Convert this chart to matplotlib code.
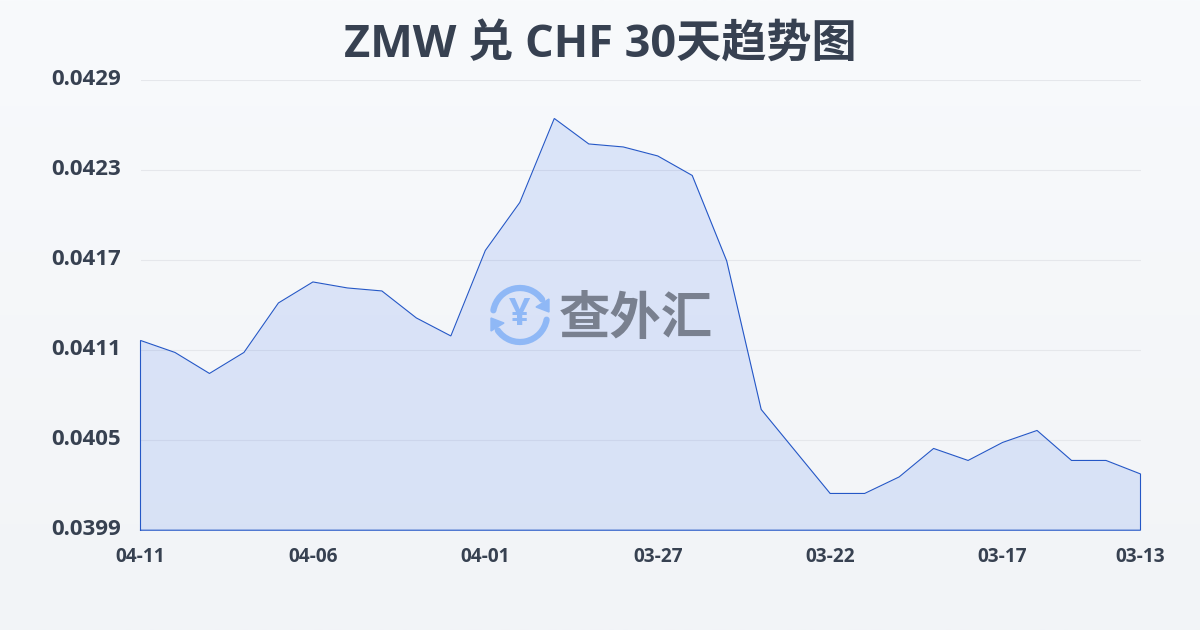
import numpy as np
import matplotlib
matplotlib.use('Agg')
import matplotlib.pyplot as plt
from matplotlib.patches import Arc, Polygon
from matplotlib.transforms import ScaledTranslation

plt.rcParams['font.family'] = ['Open Sans', 'Noto Sans CJK SC', 'DejaVu Sans']

# data, newest date on the left like the original
title = 'ZMW 兑 CHF 30天趋势图'
rates = [0.041165, 0.041085, 0.040945, 0.041085, 0.041415, 0.041555, 0.041515, 0.041495, 0.041315, 0.041195,
         0.041765, 0.042085, 0.042645, 0.042475, 0.042455, 0.042395, 0.042265, 0.041695, 0.040705, 0.040425,
         0.040145, 0.040145, 0.040255, 0.040445, 0.040365, 0.040485, 0.040565, 0.040365, 0.040365, 0.040275]
x_tick_pos = [0, 5, 10, 15, 20, 25, 29]
x_tick_labels = ['04-11', '04-06', '04-01', '03-27', '03-22', '03-17', '03-13']
y_ticks = [0.0399, 0.0405, 0.0411, 0.0417, 0.0423, 0.0429]

text_color = '#374151'
line_color = '#1a4fc4'
W, H = 1200, 630

fig = plt.figure(figsize=(W / 100, H / 100), dpi=100)

# background gradient
bg = fig.add_axes([0, 0, 1, 1], zorder=0)
bg.imshow(np.linspace(0, 1, 256).reshape(-1, 1),
          cmap=matplotlib.colors.LinearSegmentedColormap.from_list('bg', ['#f8fafc', '#f2f4f7']),
          aspect='auto', extent=[0, 1, 0, 1])
bg.axis('off')

# main chart
ax = fig.add_axes([140.5 / W, 1 - 530.2 / H, 1000 / W, 450 / H], zorder=1)
ax.patch.set_alpha(0)
x = np.arange(len(rates))
ax.fill_between(x, rates, y_ticks[0], color='#2563eb', alpha=0.13, linewidth=0)
ax.plot(np.r_[x[0], x, x[-1], x[0]], np.r_[y_ticks[0], rates, y_ticks[0], y_ticks[0]],
        color=line_color, linewidth=0.8, alpha=0.95, solid_joinstyle='miter', clip_on=False)
ax.set_xlim(0, len(rates) - 1)
ax.set_ylim(y_ticks[0], y_ticks[-1])
ax.set_xticks(x_tick_pos)
ax.set_xticklabels(x_tick_labels)
ax.set_yticks(y_ticks)
ax.set_yticklabels([f'{v:.4f}' for v in y_ticks])
ax.grid(axis='y', color='#e5e7eb', linewidth=0.8)
ax.set_axisbelow(True)
for s in ax.spines.values():
    s.set_visible(False)
ax.tick_params(axis='x', length=0, pad=12, labelsize=13.7, labelcolor=text_color)
ax.tick_params(axis='y', length=0, pad=14, labelsize=16, labelcolor=text_color)
up = ScaledTranslation(0, 2 / 72, fig.dpi_scale_trans)
for lab in ax.get_xticklabels() + ax.get_yticklabels():
    lab.set_fontweight('bold')
for lab in ax.get_yticklabels():
    lab.set_transform(lab.get_transform() + up)

fig.text(0.5, 1 - 45 / H, title, ha='center', va='center', fontsize=32.5,
         fontweight='bold', color='#374151', zorder=5)

# watermark logo, in pixel coordinates
wm = fig.add_axes([0, 0, 1, 1], zorder=3)
wm.set_xlim(0, W)
wm.set_ylim(H, 0)
wm.axis('off')
logo = '#8fb8f6'
cx, cy = 520, 315
wm.add_patch(Arc((cx, cy), 54, 54, theta1=190, theta2=325, color=logo, linewidth=4.5, capstyle='round'))
wm.add_patch(Arc((cx, cy), 54, 54, theta1=10, theta2=145, color=logo, linewidth=4.5, capstyle='round'))
wm.add_patch(Polygon([[549, 299], [549, 312], [536, 307]], closed=True, color=logo, linewidth=1))
wm.add_patch(Polygon([[491, 318], [491, 331], [504, 323]], closed=True, color=logo, linewidth=1))
wm.text(cx, cy, '¥', ha='center', va='center', fontsize=27, fontweight='bold', color=logo)
wm.text(636, 321, '查外汇', ha='center', va='center', fontsize=37, fontweight='bold', color='#79808f')

fig.savefig('out.png', dpi=100)
